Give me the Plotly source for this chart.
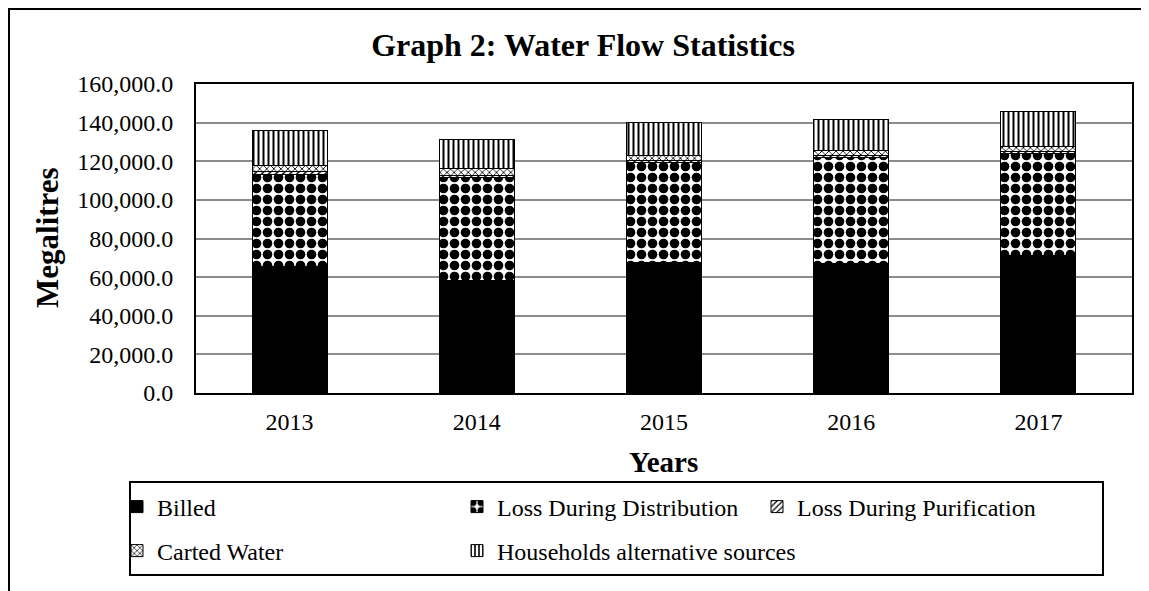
import plotly.graph_objects as go

years = ["2013", "2014", "2015", "2016", "2017"]
billed = [65300, 58400, 67700, 67300, 71300]
loss_distribution = [48000, 53200, 51900, 54600, 52700]
loss_purification = [1200, 1200, 900, 900, 1000]
carted_water = [3450, 3440, 2570, 2600, 2800]
households_alt = [18100, 15200, 16900, 16200, 17760]

series_names = ["Billed", "Loss During Distribution", "Loss During Purification",
                "Carted Water", "Households alternative sources"]
series_values = [billed, loss_distribution, loss_purification, carted_water, households_alt]

FONT = "Liberation Serif, Times New Roman, serif"

patterns = [
    dict(shape=""),
    dict(shape=".", size=11, solidity=0.6, fgcolor="black", bgcolor="white", fillmode="replace"),
    dict(shape="/", size=5, solidity=0.3, fgcolor="black", bgcolor="white", fillmode="replace"),
    dict(shape="x", size=5, solidity=0.3, fgcolor="black", bgcolor="white", fillmode="replace"),
    dict(shape="|", size=5, solidity=0.4, fgcolor="black", bgcolor="white", fillmode="replace"),
]
colors = ["black", "white", "white", "white", "white"]
legend_ids = ["legend", "legend2", "legend3", "legend4", "legend5"]

fig = go.Figure()
for name, vals, pat, col, lg in zip(series_names, series_values, patterns, colors, legend_ids):
    fig.add_trace(go.Bar(
        x=years, y=vals, name=name, legend=lg,
        marker=dict(color=col, pattern=pat, line=dict(color="black", width=1)),
    ))

# page is offset by the 8px body margin
OFF = 8
W, H = 1149 - OFF, 591 - OFF
L, R, T, B = 188, 17, 76, 198
pw, ph = W - L - R, H - T - B

def px_x(page_x):
    return (page_x - OFF - L) / pw

def px_y(page_y):
    return (H - B - (page_y - OFF)) / ph

leg_font = dict(family=FONT, size=24, color="black")
leg_common = dict(xanchor="left", yanchor="middle", bgcolor="rgba(0,0,0,0)",
                  borderwidth=0, font=leg_font, itemclick=False, itemdoubleclick=False)
leg_pos = [(117, 507), (457, 507), (757, 507), (117, 551), (457, 551)]
legends = {}
for lg, (lx, ly) in zip(legend_ids, leg_pos):
    legends[lg] = dict(x=px_x(lx), y=px_y(ly), **leg_common)

fig.update_layout(
    width=W, height=H,
    margin=dict(l=L, r=R, t=T, b=B),
    paper_bgcolor="white", plot_bgcolor="white",
    barmode="stack", bargap=0.6,
    font=dict(family=FONT, size=24, color="black"),
    title=dict(text="<b>Graph 2: Water Flow Statistics</b>", x=(583 - OFF) / W, xanchor="center",
               y=1 - (45 - OFF) / H, yanchor="middle", xref="container", yref="container",
               font=dict(family=FONT, size=32, color="black")),
    xaxis=dict(showline=True, linecolor="black", linewidth=2, mirror=True,
               ticks="", tickfont=dict(size=24), showgrid=False, ticklabelstandoff=6),
    yaxis=dict(range=[0, 160000], dtick=20000, tickformat=",.1f",
               showline=True, linecolor="black", linewidth=2, mirror=True,
               gridcolor="#8c8c8c", gridwidth=2, ticks="", tickfont=dict(size=24),
               zeroline=False, ticklabelstandoff=16),
    showlegend=True,
    **legends,
    annotations=[
        dict(text="<b>Megalitres</b>", x=px_x(47), y=px_y(238), xref="paper", yref="paper",
             xanchor="center", yanchor="middle",
             textangle=-90, showarrow=False, font=dict(family=FONT, size=31, color="black")),
        dict(text="<b>Years</b>", x=px_x(663), y=px_y(462), xref="paper", yref="paper",
             xanchor="center", yanchor="middle",
             showarrow=False, font=dict(family=FONT, size=29, color="black")),
    ],
    shapes=[
        dict(type="rect", xref="paper", yref="paper", x0=px_x(OFF + 1), x1=px_x(1170),
             y0=px_y(620), y1=px_y(OFF + 1), line=dict(color="black", width=2), layer="below"),
        dict(type="rect", xref="paper", yref="paper", x0=px_x(130), x1=px_x(1103),
             y0=px_y(575), y1=px_y(482), line=dict(color="black", width=2), layer="below"),
    ],
)

fig.write_html("out.html")
